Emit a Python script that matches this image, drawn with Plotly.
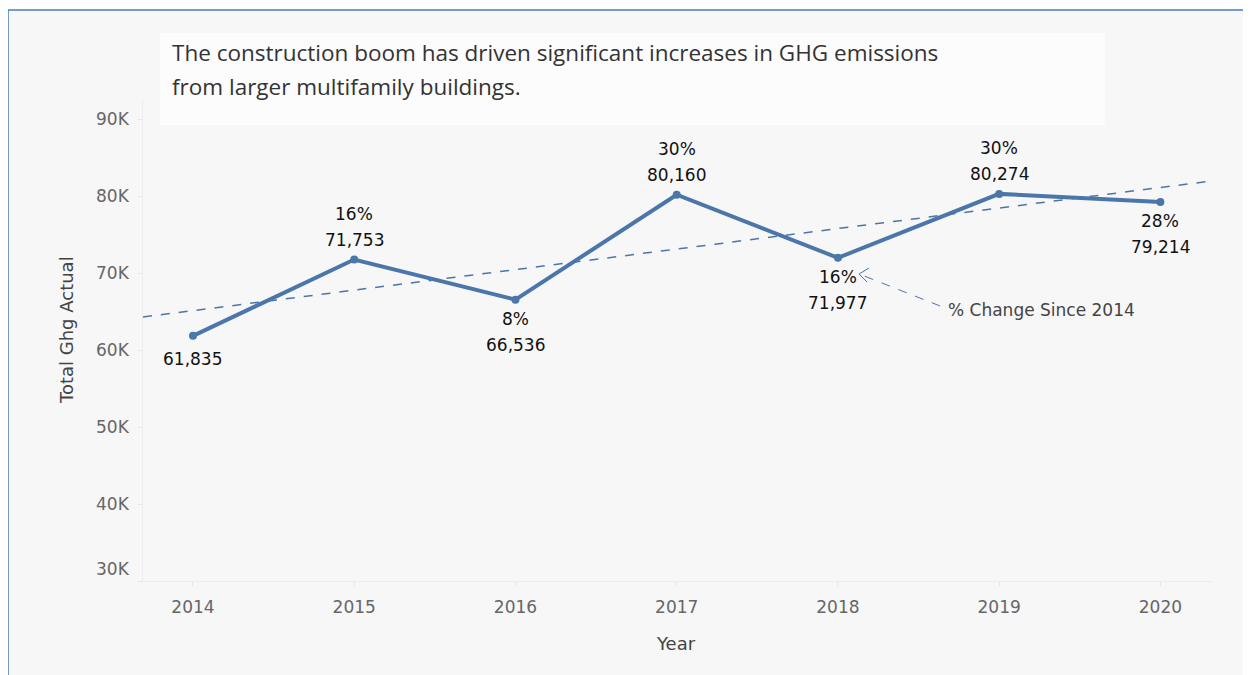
import numpy as np
import plotly.graph_objects as go

years = [2014, 2015, 2016, 2017, 2018, 2019, 2020]
ghg = [61835, 71753, 66536, 80160, 71977, 80274, 79214]
label_pos = ["below", "above", "below", "above", "below", "above", "below"]
ytick_vals = [30000, 40000, 50000, 60000, 70000, 80000, 90000]
ytick_text = ["30K", "40K", "50K", "60K", "70K", "80K", "90K"]
title_lines = [
    "The construction boom has driven significant increases in GHG emissions",
    "from larger multifamily buildings.",
]

BLUE = "#4b76a9"
BG = "#f7f7f7"
XR = [2013.69, 2020.32]
YR = [30000, 92467]
PL, PB = 143, 581      # plot-area left / bottom in page px
PW, PH = 1069, 481     # plot area size in px

def px(x):
    return (x - PL) / PW

def py(y):
    return (PB - y) / PH

fig = go.Figure()

# trend line (least squares) across the full x range
slope, intercept = np.polyfit(years, ghg, 1)
tx = np.array(XR)
fig.add_trace(go.Scatter(x=tx, y=slope * tx + intercept, mode="lines",
                         line=dict(color=BLUE, width=1.5, dash="dash"),
                         hoverinfo="skip", showlegend=False))

fig.add_trace(go.Scatter(x=years, y=ghg, mode="lines+markers",
                         line=dict(color=BLUE, width=4),
                         marker=dict(color=BLUE, size=8),
                         showlegend=False))

base = ghg[0]
lab_font = dict(family="DejaVu Sans", size=17, color="#111")
for i, (x, y, pos) in enumerate(zip(years, ghg, label_pos)):
    val = f"{y:,}"
    if i == 0:
        lines = [(val, -23)]
    else:
        pct = f"{round((y / base - 1) * 100)}%"
        lines = [(pct, 46), (val, 20)] if pos == "above" else [(pct, -19), (val, -45)]
    for txt, sh in lines:
        fig.add_annotation(x=x, y=y, text=txt, showarrow=False,
                           xanchor="center", yanchor="middle", yshift=sh,
                           font=lab_font)

# y tick labels (bottom label nudged up to stay inside the pane)
for v, t in zip(ytick_vals, ytick_text):
    fig.add_annotation(xref="paper", x=px(132), y=v, text=t, showarrow=False,
                       xanchor="right", yanchor="middle",
                       yshift=12 if v == ytick_vals[0] else 0,
                       font=dict(family="DejaVu Sans", size=17, color="#666"))

# pointer annotation
HX, HY = 2018.131, 69870
fig.add_shape(type="line", x0=2018.634, y0=65714, x1=HX + 0.01, y1=HY - 80,
              line=dict(color=BLUE, width=1, dash="dash"))
for dx, dy in [(10, 6), (8, -8)]:
    fig.add_shape(type="line", xref="x", yref="y", xsizemode="pixel", ysizemode="pixel",
                  xanchor=HX, yanchor=HY, x0=0, y0=0, x1=dx, y1=dy,
                  line=dict(color=BLUE, width=1))
fig.add_annotation(x=2018.671, y=65195, text="% Change Since 2014", showarrow=False,
                   xanchor="left", yanchor="middle",
                   font=dict(family="DejaVu Sans", size=17, color="#444"))

# frame
fig.add_shape(type="rect", xref="paper", yref="paper",
              x0=px(8), x1=1.3, y0=-0.3, y1=py(10),
              fillcolor=BG, line=dict(color="#4a7ebb", width=1.5), layer="below")
# title box
fig.add_shape(type="rect", xref="paper", yref="paper",
              x0=px(160), x1=px(1105), y0=py(125), y1=py(33),
              fillcolor="rgba(255,255,255,0.6)", line=dict(width=0), layer="below")

for line, yy in zip(title_lines, [53, 86]):
    fig.add_annotation(xref="paper", yref="paper", x=px(170), y=py(yy),
                       text=line, showarrow=False, xanchor="left", yanchor="middle",
                       font=dict(family="Open Sans", size=22.5, color="#333"))

fig.add_annotation(xref="paper", yref="paper", x=px(66), y=py(330),
                   text="Total Ghg Actual", textangle=-90, showarrow=False,
                   xanchor="center", yanchor="middle",
                   font=dict(family="DejaVu Sans", size=18, color="#444"))
fig.add_annotation(xref="paper", yref="paper", x=px(676), y=py(643),
                   text="Year", showarrow=False, xanchor="center", yanchor="middle",
                   font=dict(family="DejaVu Sans", size=18, color="#444"))

fig.update_layout(
    width=1243, height=667,
    margin=dict(l=PL - 8, r=1243 - (PL - 8) - PW, t=92, b=667 - (PB - 8)),
    paper_bgcolor="white", plot_bgcolor=BG,
    xaxis=dict(range=XR, tickmode="array", tickvals=years,
               ticktext=[str(y) for y in years], showgrid=False, zeroline=False,
               showline=True, linecolor="#ececec", linewidth=1,
               ticks="outside", ticklen=4, tickcolor="#e6e6e6", ticklabelstandoff=7,
               tickfont=dict(family="DejaVu Sans", size=17, color="#666")),
    yaxis=dict(range=YR, tickmode="array", tickvals=ytick_vals, showticklabels=False,
               showgrid=False, zeroline=False, showline=True, linecolor="#ececec",
               ticks="outside", ticklen=4, tickcolor="#e6e6e6"),
    hovermode=False,
)

fig.write_html("out.html")
